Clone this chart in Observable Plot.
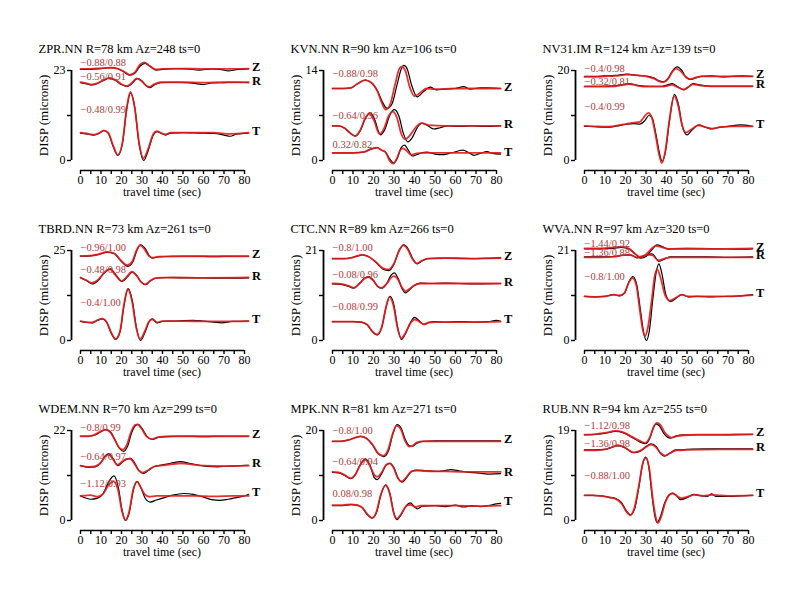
<!DOCTYPE html>
<html><head><meta charset="utf-8">
<script src="https://cdn.jsdelivr.net/npm/d3@7"></script>
<script src="https://cdn.jsdelivr.net/npm/@observablehq/plot@0.6"></script>
<style>
body{margin:0;background:#fff;}
#root{position:relative;width:800px;height:600px;background:#fff;}
#root svg{position:absolute;}
</style></head><body><div id="root"></div><script>
// ---------- data ----------
const titles = ["ZPR.NN R=78 km Az=248 ts=0","KVN.NN R=90 km Az=106 ts=0","NV31.IM R=124 km Az=139 ts=0",
  "TBRD.NN R=73 km Az=261 ts=0","CTC.NN R=89 km Az=266 ts=0","WVA.NN R=97 km Az=320 ts=0",
  "WDEM.NN R=70 km Az=299 ts=0","MPK.NN R=81 km Az=271 ts=0","RUB.NN R=94 km Az=255 ts=0"];
const yTops = [23,14,20,25,21,21,22,20,19];
const components = ["Z","R","T"];
const xTicks = [0,5,10,15,20,25,30,35,40,45,50,55,60,65,70,75,80];
const xLabel = "travel time (sec)";
const yLabel = "DISP (microns)";
const fitLabels = [
  ["\u22120.88/0.88","\u22120.56/0.91","\u22120.48/0.99"],
  ["\u22120.88/0.98","\u22120.64/0.96","0.32/0.82"],
  ["\u22120.4/0.98","\u22120.32/0.81","\u22120.4/0.99"],
  ["\u22120.96/1.00","\u22120.48/0.98","\u22120.4/1.00"],
  ["\u22120.8/1.00","\u22120.08/0.96","\u22120.08/0.99"],
  ["\u22121.44/0.92","\u22121.36/0.88","\u22120.8/1.00"],
  ["\u22120.8/0.99","\u22120.64/0.97","\u22121.12/0.93"],
  ["\u22120.8/1.00","\u22120.64/0.94","0.08/0.98"],
  ["\u22121.12/0.98","\u22121.36/0.98","\u22120.88/1.00"]];
const fitLabelY = [[25.0,21.4,12.9],[13.5,7.0,2.4],[20.5,17.5,11.9],[25.7,19.7,10.5],[21.6,15.3,8.0],
  [22.6,20.5,14.8],[22.8,15.7,9.1],[20.0,13.0,5.9],[20.1,16.2,9.5]];

// observed (black) and synthetic (red) displacement traces: [time s, microns incl. offset]
const ZPR_Z_obs=[[0,23.3],[5,23.3],[10,23.5],[15,23.7],[18,23.5],[21,22.7],[24,21.8],[26.5,22.3],[29,24.1],[31.5,24.8],[34,24.0],[37,23.1],[40,23.3],[46,23.5],[52,23.4],[58,23.1],[64,23.4],[69,23.2],[72,22.9],[76,23.2],[82,23.4]];
const ZPR_Z_syn=[[0,23.4],[5,23.4],[10,23.6],[15,23.7],[18,23.5],[21,22.8],[24,21.9],[26.5,22.5],[29,24.5],[31,25.1],[33.5,24.3],[36.5,23.3],[40,23.4],[50,23.5],[60,23.4],[70,23.4],[82,23.5]];
const ZPR_R_obs=[[0,19.9],[3,19.6],[5.5,19.3],[8,19.6],[11,20.4],[14,21.0],[17,20.5],[20,19.4],[22.8,18.9],[25,19.6],[27.6,20.9],[30,20.3],[32,19.1],[33.7,18.6],[36,19.3],[39,19.9],[45,20.0],[52,19.9],[57,19.6],[60,19.4],[64,19.8],[70,19.9],[76,20.0],[82,19.9]];
const ZPR_R_syn=[[0,20.0],[3,19.7],[5.5,19.4],[8,19.7],[11,20.5],[14,21.1],[17,20.6],[20,19.5],[22.5,19.0],[25,19.8],[27.4,21.0],[30,20.2],[32,19.2],[33.5,18.8],[36,19.5],[39,20.0],[50,20.0],[60,19.9],[70,20.0],[82,20.0]];
const ZPR_T_obs=[[0,7.0],[3,6.8],[6.5,6.5],[9,6.9],[11.4,7.6],[13.5,7.0],[16,3.5],[18.2,1.3],[20.5,4.5],[22.5,13.0],[24.4,17.3],[26.5,13.5],[28.5,4.5],[30.9,0.0],[33,2.5],[35.5,6.5],[37.4,7.4],[39.5,6.9],[41.5,6.5],[44,7.0],[50,7.1],[58,7.0],[65,6.9],[70,6.5],[73,6.2],[76,6.7],[82,7.0]];
const ZPR_T_syn=[[0,7.1],[3,6.9],[6.5,6.6],[9,7.0],[11.4,7.7],[13.5,7.1],[16,3.7],[18.2,1.4],[20.5,4.7],[22.5,13.2],[24.3,17.5],[26.5,13.3],[28.5,4.8],[30.7,0.6],[33,3.0],[35.5,6.8],[37.2,7.5],[39.5,7.0],[41.5,6.7],[44,7.1],[55,7.1],[65,7.1],[73,6.8],[82,7.1]];

const KVN_Z_obs=[[0,11.2],[5,11.2],[9,11.3],[12,11.9],[16,12.5],[19,12.1],[22,10.8],[24.5,9.0],[26.7,8.1],[29,8.8],[31.5,11.8],[33.5,14.2],[34.8,14.8],[36.5,14.2],[38.5,11.8],[41.3,9.9],[44,10.6],[47.8,11.4],[50.5,11.0],[55,11.1],[60,11.2],[64,11.5],[67,11.1],[72,11.3],[76,11.3],[82,11.2]];
const KVN_Z_syn=[[0,11.2],[5,11.2],[9,11.3],[12,11.9],[15.8,12.5],[19,12.1],[22,10.7],[24,9.0],[26,7.9],[28,8.6],[30.5,11.8],[32.5,14.2],[33.6,14.6],[35.5,14.0],[37.5,11.6],[40,10.0],[43,10.6],[46,11.2],[50,11.1],[60,11.2],[70,11.2],[82,11.2]];
const KVN_R_obs=[[0,5.4],[3,5.4],[6,5.0],[8.5,4.3],[11.2,3.8],[13.5,4.6],[16,6.5],[18.5,7.4],[20.5,6.4],[23.4,4.0],[25.5,4.8],[28,7.1],[30.2,7.9],[32.5,6.8],[34.5,4.3],[36.7,2.9],[39,3.6],[41.5,5.2],[43.7,5.8],[46.5,5.4],[49.5,4.9],[52.5,5.1],[56,5.4],[62,5.3],[68,5.4],[74,5.3],[82,5.4]];
const KVN_R_syn=[[0,5.4],[3,5.4],[6,5.0],[8.5,4.3],[11,3.8],[13.5,4.7],[16,6.6],[17.8,7.3],[20,6.4],[23,4.1],[25,4.9],[27.5,7.0],[29.5,7.6],[31.5,6.6],[33.5,4.2],[35.5,3.3],[38,4.0],[41,5.3],[43.5,5.8],[47,5.5],[55,5.4],[65,5.4],[82,5.4]];
const KVN_T_obs=[[0,1.2],[10,1.2],[15,1.3],[19,1.8],[21.8,2.0],[24,1.6],[25.9,1.3],[28,0.2],[29.9,-0.4],[31.8,0.5],[33.5,2.0],[35.1,2.4],[37,1.6],[38.9,0.7],[41,0.9],[43.5,1.2],[46,1.3],[50,1.0],[53.5,0.9],[58,1.2],[63.7,1.6],[66.5,1.2],[69,0.8],[72,1.1],[75.4,1.4],[78,1.1],[82,1.0]];
const KVN_T_syn=[[0,1.2],[10,1.2],[15,1.3],[19,1.8],[21.5,2.0],[24,1.6],[25.8,1.3],[27.8,0.0],[29.6,-0.5],[31.5,0.4],[33,1.6],[34.5,1.9],[36.5,1.4],[38.5,0.9],[41,1.1],[45,1.2],[55,1.2],[65,1.2],[82,1.2]];

const NV31_Z_obs=[[0,18.7],[5,18.7],[10,18.8],[15,18.9],[20.8,19.2],[26,18.9],[31,18.7],[34,18.3],[36.5,17.7],[38.7,17.5],[41,18.4],[43,20.0],[45.2,20.8],[47.5,20.0],[49.5,18.5],[51.7,18.0],[54,18.3],[57,18.7],[62,18.8],[67,18.6],[72,18.7],[77,18.8],[82,18.7]];
const NV31_Z_syn=[[0,18.6],[5,18.6],[10,18.7],[15,18.8],[20.8,19.1],[26,18.9],[31,18.6],[34,18.2],[36.5,17.6],[38.5,17.4],[41,18.3],[43,19.8],[44.8,20.4],[47,19.8],[49.3,18.6],[51.5,18.1],[54,18.4],[57,18.7],[65,18.7],[82,18.7]];
const NV31_R_obs=[[0,16.5],[8,16.5],[15,16.6],[19,16.9],[21.6,17.1],[26,16.7],[32,16.5],[38,16.5],[40.5,16.8],[42.8,17.1],[45.5,16.4],[48.5,15.7],[50.8,16.4],[53,17.1],[56,16.8],[62,16.5],[70,16.5],[82,16.5]];
const NV31_R_syn=[[0,16.4],[8,16.4],[15,16.5],[19,16.8],[21.6,17.0],[26,16.6],[32,16.4],[38,16.4],[40.5,16.6],[42.6,16.8],[45.3,16.3],[48.3,15.8],[50.6,16.3],[52.8,16.9],[56,16.7],[62,16.5],[70,16.5],[82,16.5]];
const NV31_T_obs=[[0,7.6],[5,7.5],[10,7.4],[15,7.6],[20,8.0],[24,8.2],[27,8.1],[29.5,8.9],[31.4,10.0],[33,9.5],[35,5.5],[36.5,1.8],[37.9,-0.2],[39.5,2.0],[41.5,9.0],[43.9,14.7],[45.8,12.5],[47.8,7.5],[50,5.7],[52.5,6.8],[55.8,7.9],[59,7.4],[62.3,7.0],[65,7.3],[70,7.6],[76,7.9],[82,7.6]];
const NV31_T_syn=[[0,7.7],[5,7.6],[10,7.5],[15,7.7],[20,8.1],[24,8.4],[27,8.6],[29.3,9.8],[31.1,10.6],[32.8,9.6],[34.8,5.3],[36.3,1.5],[37.7,-0.6],[39.3,1.8],[41.3,8.6],[43.7,14.3],[45.6,12.4],[47.5,8.0],[49.5,6.2],[52,6.9],[55.5,7.8],[59,7.4],[62,7.1],[66,7.4],[72,7.6],[82,7.6]];

const TBRD_Z_obs=[[0,23.4],[5,23.5],[9,23.9],[13,24.5],[16.5,24.1],[19.5,22.2],[23.1,20.6],[25.5,21.8],[27.5,25.0],[29.3,26.6],[31.5,25.6],[33.5,23.6],[35,22.9],[38,23.2],[45,23.4],[55,23.4],[65,23.3],[75,23.4],[82,23.4]];
const TBRD_Z_syn=[[0,23.5],[5,23.6],[9,24.0],[13,24.6],[16.5,24.2],[19.5,22.4],[22.8,20.9],[25.3,22.0],[27.3,25.0],[29.0,26.4],[31.2,25.4],[33.3,23.5],[35,23.0],[38,23.3],[50,23.4],[65,23.4],[82,23.4]];
const TBRD_R_obs=[[0,17.4],[3,16.6],[5.7,15.7],[8.5,16.6],[11.5,18.7],[14.6,19.9],[17.3,18.2],[20.3,16.4],[22.8,17.6],[25.2,19.0],[27.5,18.0],[29.5,16.3],[31.7,15.5],[34,16.5],[37,17.3],[42,17.5],[50,17.4],[60,17.4],[70,17.3],[82,17.4]];
const TBRD_R_syn=[[0,17.5],[3,16.7],[5.5,16.0],[8.5,16.8],[11.5,18.8],[14.3,19.8],[17,18.2],[20,16.5],[22.6,17.7],[25,19.1],[27.3,18.1],[29.3,16.4],[31.5,15.6],[34,16.6],[37,17.4],[45,17.5],[60,17.4],[82,17.5]];
const TBRD_T_obs=[[0,5.3],[3,5.0],[5.7,4.9],[8,5.5],[10.6,6.0],[12.8,5.0],[15,2.0],[17.1,0.3],[19.3,2.5],[21.3,10.0],[23.3,14.4],[25.3,11.0],[27.3,3.5],[29.3,0.0],[31.5,2.3],[33.5,5.2],[35,6.0],[37.4,4.9],[40,5.3],[45,5.4],[55,5.6],[60,5.4],[65,5.1],[69,4.9],[74,5.3],[82,5.4]];
const TBRD_T_syn=[[0,5.4],[3,5.1],[5.7,5.0],[8,5.6],[10.6,6.1],[12.8,5.1],[15,2.2],[17.1,0.4],[19.3,2.6],[21.2,10.0],[23.1,14.3],[25.1,11.0],[27.1,3.8],[29.1,0.4],[31.3,2.5],[33.3,5.2],[35,5.9],[37.4,5.0],[40,5.4],[50,5.4],[60,5.3],[70,5.3],[82,5.4]];

const CTC_Z_obs=[[0,19.1],[5,19.1],[9,19.3],[12,19.7],[14.5,20.0],[17.5,19.6],[21,18.3],[24.5,16.7],[27.5,16.3],[30,17.8],[32.5,21.0],[34.8,22.3],[37,21.3],[39,19.2],[41.3,17.9],[43.5,18.5],[46.5,19.1],[52,19.2],[60,19.2],[70,19.1],[78,19.2],[82,19.3]];
const CTC_Z_syn=[[0,19.1],[5,19.1],[9,19.3],[12,19.7],[14.5,20.0],[17.5,19.6],[21,18.4],[24.5,16.9],[27.2,16.6],[30,18.0],[32.5,21.0],[34.6,22.2],[36.8,21.2],[38.8,19.2],[41,18.0],[43.5,18.6],[46.5,19.1],[55,19.2],[65,19.1],[82,19.2]];
const CTC_R_obs=[[0,13.2],[4,13.1],[7.5,12.7],[10.4,12.2],[13,13.2],[15.5,14.5],[17.7,14.9],[20,14.0],[22,12.6],[24.2,12.2],[26.5,13.3],[28.5,15.2],[30.2,15.8],[32,14.5],[34,12.0],[35.6,11.1],[37.5,11.8],[40,12.9],[43,13.4],[48,13.3],[55,13.4],[62,13.3],[70,13.2],[82,13.3]];
const CTC_R_syn=[[0,13.3],[4,13.2],[7.5,12.8],[10.4,12.3],[13,13.2],[15.5,14.4],[17.5,14.8],[20,13.9],[22,12.7],[24,12.3],[26.5,13.3],[28.5,14.6],[30,15.0],[32,14.2],[34,12.3],[35.6,11.5],[37.5,12.0],[40,12.9],[43,13.3],[50,13.3],[60,13.3],[82,13.3]];
const CTC_T_obs=[[0,4.4],[6,4.4],[10,4.4],[14,4.3],[17,3.6],[19.5,2.0],[21.8,1.3],[24,3.0],[26,7.5],[28,10.3],[30,8.2],[31.8,3.0],[33.7,0.2],[35.5,1.5],[38,4.2],[40,5.4],[42.3,4.6],[44.6,3.7],[47,4.2],[49.4,4.4],[55,4.3],[62,4.4],[70,4.3],[76,4.4],[80,4.7],[82,4.5]];
const CTC_T_syn=[[0,4.4],[6,4.4],[10,4.4],[14,4.3],[17,3.7],[19.5,2.1],[21.6,1.4],[24,3.1],[26,7.6],[27.8,10.2],[29.8,8.0],[31.6,3.2],[33.5,0.5],[35.4,1.6],[38,4.0],[40,4.9],[42.3,4.4],[44.6,3.8],[47,4.2],[50,4.3],[60,4.3],[70,4.3],[82,4.4]];

const WVA_Z_obs=[[0,21.4],[8,21.4],[14,21.5],[18,21.7],[22,21.3],[25,20.1],[27.5,19.2],[30,19.6],[32.5,21.0],[35.4,22.3],[38,21.9],[41,21.3],[45,21.4],[55,21.4],[65,21.4],[75,21.3],[82,21.4]];
const WVA_Z_syn=[[0,21.5],[8,21.5],[14,21.7],[18,21.9],[21.5,21.5],[24.5,20.3],[27,19.5],[29.5,19.9],[32,21.1],[34.7,22.1],[37.5,21.8],[41,21.4],[50,21.5],[65,21.4],[82,21.5]];
const WVA_R_obs=[[0,19.5],[8,19.5],[14,19.6],[19,19.9],[22.4,20.0],[25.7,19.3],[28.5,19.6],[31,20.1],[33,20.2],[36.3,18.5],[39,19.0],[42,19.5],[50,19.5],[60,19.5],[70,19.4],[82,19.5]];
const WVA_R_syn=[[0,19.4],[8,19.4],[14,19.5],[19,19.9],[22,20.0],[25.5,19.4],[28.3,19.7],[30.8,20.0],[33,19.9],[36,18.7],[39,19.1],[42,19.4],[55,19.4],[82,19.4]];
const WVA_T_obs=[[0,10.3],[6,10.2],[10,10.3],[14.3,10.7],[17,10.4],[19.5,11.0],[21.5,13.5],[23.6,14.9],[25.5,13.0],[27.3,7.0],[28.8,2.0],[30.2,0.0],[31.7,2.5],[33.3,9.5],[35,16.0],[36.3,17.9],[37.8,15.5],[39.8,10.5],[42,9.1],[44.5,9.8],[47.6,10.7],[50.5,10.2],[55,10.3],[62,10.2],[70,10.3],[76,10.4],[82,10.7]];
const WVA_T_syn=[[0,10.3],[6,10.2],[10,10.3],[14.3,10.7],[17,10.5],[19.5,11.1],[21.5,13.4],[23.4,14.6],[25.3,12.8],[27,7.0],[28.3,2.8],[29.5,1.0],[31,3.2],[32.8,9.5],[34.3,15.2],[35.5,16.6],[37,14.8],[39.3,10.6],[41.7,9.3],[44.3,9.9],[47.4,10.7],[50.5,10.3],[60,10.3],[70,10.3],[82,10.6]];

const WDEM_Z_obs=[[0,20.6],[4,20.6],[7,20.9],[10,21.7],[12.2,22.2],[14.5,21.7],[17,19.5],[19,17.6],[21.1,16.9],[23,18.2],[25,21.5],[27,23.3],[28.1,23.5],[30,22.5],[32.5,20.5],[35,19.8],[38,20.3],[42,20.5],[50,20.6],[60,20.5],[70,20.6],[82,20.6]];
const WDEM_Z_syn=[[0,20.6],[4,20.6],[7,21.0],[10,21.8],[12,22.2],[14.3,21.7],[16.7,19.8],[18.7,17.9],[20.7,17.3],[22.7,18.6],[24.7,21.7],[26.7,23.4],[27.8,23.5],[29.7,22.5],[32.3,20.5],[34.8,19.9],[38,20.4],[45,20.6],[60,20.6],[82,20.6]];
const WDEM_R_obs=[[0,13.4],[4,13.0],[7,13.1],[10,14.2],[12,15.8],[13.8,16.3],[15.8,15.2],[18.2,13.4],[20.5,14.3],[22.5,15.0],[24.4,15.2],[26.5,14.0],[28.5,12.2],[30.6,11.5],[33,12.2],[36,13.2],[40,13.6],[44,14.0],[48.8,14.4],[53,14.0],[58,13.5],[62,13.2],[66.7,13.1],[72,13.3],[78,13.4],[82,13.5]];
const WDEM_R_syn=[[0,13.4],[4,13.1],[7,13.2],[10,14.2],[12,15.6],[13.6,16.1],[15.6,15.2],[18,13.6],[20.3,14.4],[22.3,15.0],[24.2,15.1],[26.3,13.9],[28.3,12.3],[30.4,11.7],[33,12.3],[36,13.2],[40,13.5],[45,13.8],[49,14.0],[54,13.7],[60,13.4],[70,13.3],[82,13.4]];
const WDEM_T_obs=[[0,6.0],[2.5,5.5],[5,5.2],[8,5.4],[11,6.5],[13.5,9.2],[16.3,10.9],[18.5,8.0],[20.3,2.5],[22,0.0],[23.8,2.0],[25.8,7.5],[27.6,9.5],[29.5,8.0],[31.5,5.5],[34,4.5],[37,5.0],[41,5.6],[45,6.2],[50.4,6.6],[55,6.4],[60,5.7],[64,5.1],[68,4.9],[72,5.2],[76,5.6],[80,6.0],[82,6.4]];
const WDEM_T_syn=[[0,6.0],[2.5,6.1],[5,6.2],[8,5.8],[11,6.5],[13.5,8.5],[16,9.6],[18.3,7.5],[20.2,2.3],[21.9,0.1],[23.7,2.1],[25.7,7.5],[27.5,9.5],[29.5,8.0],[31.5,6.3],[33.5,5.8],[37,6.0],[45,6.0],[55,6.0],[65,5.9],[75,6.0],[82,6.0]];

const MPK_Z_obs=[[0,17.6],[4,17.6],[8,17.9],[11,18.4],[13.7,18.7],[16.5,18.3],[19.5,16.8],[22.3,14.8],[25,14.2],[27.3,15.5],[29.5,19.3],[31.5,21.3],[33.5,20.5],[35.5,18.0],[37.5,16.6],[38.9,16.5],[41,17.1],[44,17.6],[50,17.7],[60,17.7],[70,17.7],[82,17.7]];
const MPK_Z_syn=[[0,17.6],[4,17.6],[8,17.9],[11,18.4],[13.7,18.7],[16.5,18.3],[19.5,16.9],[22.3,14.9],[24.8,14.4],[27.1,15.7],[29.3,19.2],[31.3,21.1],[33.3,20.3],[35.3,17.8],[37.5,16.4],[39,16.6],[41,17.3],[44,17.6],[55,17.6],[70,17.6],[82,17.6]];
const MPK_R_obs=[[0,10.7],[3,10.6],[6,10.0],[8.8,9.3],[11,10.1],[13.5,12.4],[16.1,13.7],[18.5,12.0],[20.3,9.6],[21.8,9.1],[24,10.4],[26,12.2],[28,12.7],[30,11.7],[32,9.4],[34,8.5],[36,9.4],[38.5,10.9],[41,11.2],[45,11.1],[50,10.9],[55,11.1],[57.6,11.3],[62,11.0],[67,10.7],[72,10.5],[77,10.3],[82,10.4]];
const MPK_R_syn=[[0,10.8],[3,10.7],[6,10.1],[8.8,9.4],[11,10.1],[13.5,12.3],[15.9,13.5],[18.3,12.1],[20.3,10.2],[21.8,9.7],[24,10.7],[26,12.3],[27.8,12.7],[29.8,11.7],[31.8,9.5],[33.8,8.7],[36,9.6],[38.5,10.9],[41,11.1],[45,11.0],[55,10.9],[65,10.8],[82,10.8]];
const MPK_T_obs=[[0,3.3],[5,3.3],[9,3.5],[12,3.4],[14.5,2.8],[17,1.3],[19.3,0.5],[21.5,1.8],[23.5,5.5],[25.9,7.9],[28,6.0],[30,1.5],[31.5,0.2],[33.5,1.3],[36,3.3],[38,3.9],[40,3.0],[41.3,2.6],[44,3.2],[50,3.3],[55,3.1],[60,3.4],[64,3.0],[68,3.3],[72,3.1],[76,3.3],[80,3.7],[82,3.8]];
const MPK_T_syn=[[0,3.4],[5,3.4],[9,3.6],[12,3.4],[14.5,2.9],[17,1.4],[19.2,0.6],[21.4,1.9],[23.4,5.5],[25.8,7.8],[27.9,6.0],[29.9,1.6],[31.4,0.4],[33.4,1.4],[36,3.2],[38,3.5],[40.5,3.0],[43,3.3],[50,3.3],[60,3.3],[70,3.2],[82,3.3]];

const RUB_Z_obs=[[0,18.1],[5,18.2],[10,18.4],[15.1,18.8],[19,18.5],[23,17.6],[27,16.6],[29.8,16.2],[31.8,17.3],[33.5,19.5],[34.8,20.4],[36.5,20.0],[38.5,18.5],[40.5,17.6],[42,17.4],[44.5,17.8],[48,18.1],[55,18.1],[65,18.1],[75,18.2],[82,18.2]];
const RUB_Z_syn=[[0,18.1],[5,18.2],[10,18.5],[15.1,18.9],[19,18.6],[23,17.7],[27,16.8],[29.6,16.4],[31.8,17.5],[33.8,19.8],[35.4,20.6],[37,20.2],[39,18.7],[41,17.8],[42.5,17.5],[45,17.8],[48.5,18.0],[55,18.1],[70,18.1],[82,18.2]];
const RUB_R_obs=[[0,14.9],[5,14.9],[10,15.0],[13.5,15.5],[16.7,15.8],[20,15.3],[24,14.3],[27,14.6],[30,15.6],[32.5,16.2],[35,15.6],[37,14.2],[39,13.6],[41.5,14.2],[44.5,14.9],[50,15.0],[60,15.1],[70,15.1],[82,15.1]];
const RUB_R_syn=[[0,14.8],[5,14.8],[10,15.0],[13.5,15.5],[16.5,15.9],[20,15.3],[24,14.4],[27,14.7],[30,15.5],[32.3,16.0],[34.8,15.5],[37,14.3],[39.2,13.7],[41.7,14.2],[44.7,14.8],[50,14.9],[65,15.0],[82,15.0]];
const RUB_T_obs=[[0,5.3],[4,5.3],[8,5.2],[12,4.9],[15,4.7],[18,3.8],[20.5,2.0],[22.4,1.2],[24.5,2.5],[26.5,7.0],[28.3,11.8],[29.8,13.4],[31.3,11.5],[33,5.0],[34.3,1.0],[35.4,-0.4],[37,0.8],[39,3.6],[41,5.3],[42.8,5.8],[44.8,5.3],[46.8,4.4],[50,4.8],[53.3,5.5],[57,5.2],[60,5.1],[62,5.6],[64,5.1],[70,5.1],[76,5.2],[82,5.3]];
const RUB_T_syn=[[0,5.3],[4,5.3],[8,5.2],[12,4.9],[15,4.6],[18,3.6],[20.5,1.8],[22.2,1.1],[24.3,2.6],[26.5,7.3],[28.5,12.2],[30,13.2],[31.6,11.0],[33.3,4.6],[34.7,0.8],[35.8,-0.5],[37.4,0.8],[39.4,3.8],[41.4,5.4],[43.2,5.7],[45.3,5.1],[47.3,4.7],[50,5.0],[53.5,5.4],[58,5.2],[62,5.4],[70,5.2],[82,5.3]];

const obsTraces = [
  [ZPR_Z_obs,ZPR_R_obs,ZPR_T_obs],[KVN_Z_obs,KVN_R_obs,KVN_T_obs],[NV31_Z_obs,NV31_R_obs,NV31_T_obs],
  [TBRD_Z_obs,TBRD_R_obs,TBRD_T_obs],[CTC_Z_obs,CTC_R_obs,CTC_T_obs],[WVA_Z_obs,WVA_R_obs,WVA_T_obs],
  [WDEM_Z_obs,WDEM_R_obs,WDEM_T_obs],[MPK_Z_obs,MPK_R_obs,MPK_T_obs],[RUB_Z_obs,RUB_R_obs,RUB_T_obs]];
const synTraces = [
  [ZPR_Z_syn,ZPR_R_syn,ZPR_T_syn],[KVN_Z_syn,KVN_R_syn,KVN_T_syn],[NV31_Z_syn,NV31_R_syn,NV31_T_syn],
  [TBRD_Z_syn,TBRD_R_syn,TBRD_T_syn],[CTC_Z_syn,CTC_R_syn,CTC_T_syn],[WVA_Z_syn,WVA_R_syn,WVA_T_syn],
  [WDEM_Z_syn,WDEM_R_syn,WDEM_T_syn],[MPK_Z_syn,MPK_R_syn,MPK_T_syn],[RUB_Z_syn,RUB_R_syn,RUB_T_syn]];

// ---------- drawing ----------
const SERIF = "'Liberation Serif','Times New Roman',serif";
const RED = "#e41a1c";
const LABEL_RED = "#b03a3a";
const root = document.getElementById("root");

function rows(traces) {
  const out = [];
  traces.forEach((tr, i) => tr.forEach(([t, v]) => out.push({c: components[i], t, v})));
  return out;
}

titles.forEach((title, k) => {
  const col = k % 3, row = Math.floor(k / 3);
  const top = yTops[k];
  const obs = rows(obsTraces[k]);
  const syn = rows(synTraces[k]);
  const ends = components.map((c, i) => ({c, t: 83.6, v: obsTraces[k][i][obsTraces[k][i].length - 1][1]}));
  const labs = components.map((c, i) => ({t: 0, v: fitLabelY[k][i], text: fitLabels[k][i]}));
  const svg = Plot.plot({
    width: 252, height: 200,
    marginLeft: 71, marginRight: 8, marginTop: 70, marginBottom: 30,
    x: {domain: [0, 80], insetLeft: 9},
    y: {domain: [0, top], insetBottom: 10},
    style: {fontFamily: SERIF, fontSize: "12px", background: "transparent", overflow: "visible", color: "black"},
    marks: [
      Plot.ruleY([0], {x1: 0, x2: 80, dy: 10, strokeWidth: 1.6}),
      Plot.ruleX([0], {y1: 0, y2: top, dx: -9, strokeWidth: 1.8}),
      Plot.axisX(xTicks, {tickFormat: d => d % 10 === 0 ? String(d) : "", tickSize: 4, tickPadding: 1, strokeWidth: 1.4, label: null, fontSize: 12}),
      Plot.axisY([0, top / 2, top], {tickFormat: d => (d === 0 || d === top) ? String(d) : "", tickSize: 4, tickPadding: 2, strokeWidth: 1.4, label: null, fontSize: 12}),
      Plot.text([xLabel], {text: d => d, frameAnchor: "bottom", textAnchor: "middle", lineAnchor: "middle", dx: 4, dy: 22, fontSize: 12}),
      Plot.text([yLabel], {text: d => d, frameAnchor: "left", textAnchor: "middle", lineAnchor: "middle", rotate: -90, dx: -28, dy: -5, fontSize: 13}),
      Plot.text([title], {text: d => d, frameAnchor: "top-left", textAnchor: "start", lineAnchor: "middle", dx: -33, dy: -22, fontSize: 12.5}),
      Plot.line(obs, {x: "t", y: "v", z: "c", stroke: "black", strokeWidth: 1.2, curve: "monotone-x"}),
      Plot.line(syn, {x: "t", y: "v", z: "c", stroke: RED, strokeWidth: 1.8, strokeOpacity: 0.9, curve: "monotone-x"}),
      Plot.text(labs, {x: "t", y: "v", text: "text", textAnchor: "start", lineAnchor: "middle", fill: LABEL_RED, fontSize: 10.5}),
      Plot.text(ends, {x: "t", y: "v", text: "c", textAnchor: "start", lineAnchor: "middle", fontWeight: "bold", fontSize: 12.5, dy: -2})
    ]
  });
  svg.style.left = (252 * col) + "px";
  svg.style.top = (180 * row) + "px";
  root.appendChild(svg);
});
</script></body></html>
